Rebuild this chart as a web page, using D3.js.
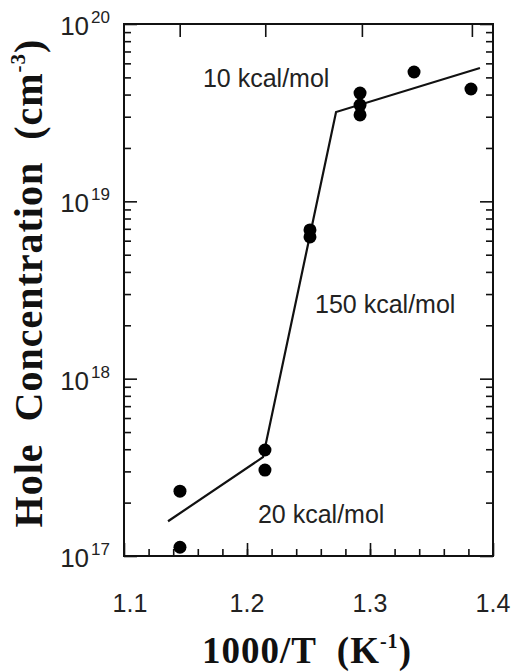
<!DOCTYPE html>
<html>
<head>
<meta charset="utf-8">
<script src="https://cdn.jsdelivr.net/npm/d3@7"></script>
<style>
  body { margin: 0; background: #fff; }
  svg { display: block; }
  .tick line { stroke: #111; stroke-width: 1.6; }
  .domain { display: none; }
</style>
</head>
<body>
<div id="chart"></div>
<script>
// measured points (1000/T, hole concentration)
const invTemp = [1.1455, 1.1455, 1.2146, 1.2146, 1.2512, 1.2512, 1.2919, 1.2919, 1.2919, 1.3358, 1.3821];
const holeConc = [2.32e17, 1.12e17, 3.96e17, 3.05e17, 6.9e18, 6.3e18, 4.08e19, 3.49e19, 3.07e19, 5.36e19, 4.3e19];

// piecewise fit line
const fitInvTemp = [1.1358, 1.213, 1.2724, 1.3894];
const fitConc = [1.57e17, 3.61e17, 3.19e19, 5.65e19];

// axes
const xTicks = [1.1, 1.2, 1.3, 1.4];
const xMinorTicks = d3.range(1.12, 1.39, 0.02);
const yDecades = [17, 18, 19, 20];
const topTicksC = [600, 550, 500, 450];   // unlabeled temperature ticks, deg C

// energy labels
const energyLabels = ["10 kcal/mol", "150 kcal/mol", "20 kcal/mol"];
const energyX = [1.1642, 1.2553, 1.2089];
const energyY = [4.4e19, 2.34e18, 1.53e17];

const width = 518, height = 672;
const margin = { top: 24, right: 25, bottom: 116, left: 124 };

const svg = d3.select("#chart").append("svg")
    .attr("width", width)
    .attr("height", height);

const x = d3.scaleLinear()
    .domain([1.1, 1.4])
    .range([margin.left, width - margin.right]);

const y = d3.scaleLog()
    .domain([1e17, 1e20])
    .range([height - margin.bottom, margin.top]);

const sans = "'Liberation Sans', Arial, sans-serif";
const serif = "'Liberation Serif', 'Times New Roman', serif";

// log minor ticks
const yMinor = [];
yDecades.slice(0, 3).forEach(d => {
    for (let m = 2; m <= 9; m++) yMinor.push(m * Math.pow(10, d));
});
const yMajor = yDecades.map(d => Math.pow(10, d));

function addAxis(axis, transform) {
    svg.append("g").attr("transform", transform).call(axis);
}

const x0 = margin.left, x1 = width - margin.right;
const y0 = height - margin.bottom, y1 = margin.top;

// left + right
addAxis(d3.axisLeft(y).tickValues(yMinor).tickSize(-7).tickFormat(""), `translate(${x0},0)`);
addAxis(d3.axisLeft(y).tickValues(yMajor).tickSize(-13).tickFormat(""), `translate(${x0},0)`);
addAxis(d3.axisRight(y).tickValues(yMinor).tickSize(-7).tickFormat(""), `translate(${x1},0)`);
addAxis(d3.axisRight(y).tickValues(yMajor).tickSize(-13).tickFormat(""), `translate(${x1},0)`);

// bottom
addAxis(d3.axisBottom(x).tickValues(xMinorTicks).tickSize(-7).tickFormat(""), `translate(0,${y0})`);
addAxis(d3.axisBottom(x).tickValues(xTicks).tickSize(-13).tickFormat(""), `translate(0,${y0})`);

// top: temperature in deg C on 1000/T scale
addAxis(d3.axisTop(x).tickValues(topTicksC.map(c => 1000 / (c + 273.15))).tickSize(-13).tickFormat(""),
    `translate(0,${y1})`);

// frame
svg.append("rect")
    .attr("x", x0).attr("y", y1)
    .attr("width", x1 - x0).attr("height", y0 - y1)
    .attr("fill", "none")
    .attr("stroke", "#111")
    .attr("stroke-width", 2);

// y tick labels 10^n
const yLab = svg.append("g").attr("font-family", sans).attr("fill", "#222");
yDecades.forEach(d => {
    const t = yLab.append("text")
        .attr("x", 110)
        .attr("y", y(Math.pow(10, d)) + 11)
        .attr("text-anchor", "end");
    t.append("tspan").attr("font-size", 26).text("10");
    t.append("tspan").attr("font-size", 17).attr("dx", 2).attr("dy", -12).text(d);
});

// x tick labels
svg.append("g").selectAll("text").data(xTicks).enter()
    .append("text")
    .attr("x", d => x(d) + (d === 1.1 ? 6 : 0))
    .attr("y", 612)
    .attr("text-anchor", "middle")
    .attr("font-family", sans)
    .attr("font-size", 25)
    .attr("fill", "#222")
    .text(d => d.toFixed(1));

// fit line
const fitData = fitInvTemp.map((v, i) => [v, fitConc[i]]);
svg.append("path")
    .datum(fitData)
    .attr("fill", "none")
    .attr("stroke", "#111")
    .attr("stroke-width", 2.2)
    .attr("d", d3.line().x(d => x(d[0])).y(d => y(d[1])));

// data points
svg.append("g").selectAll("circle").data(invTemp).enter()
    .append("circle")
    .attr("cx", d => x(d))
    .attr("cy", (d, i) => y(holeConc[i]))
    .attr("r", 6.5)
    .attr("fill", "#000");

// activation energy labels
svg.append("g").selectAll("text").data(energyLabels).enter()
    .append("text")
    .attr("x", (d, i) => x(energyX[i]))
    .attr("y", (d, i) => y(energyY[i]))
    .attr("font-family", sans)
    .attr("font-size", 25)
    .attr("fill", "#222")
    .text(d => d);

// x title
const xt = svg.append("text")
    .attr("x", 307)
    .attr("y", 663)
    .attr("text-anchor", "middle")
    .attr("font-family", serif)
    .attr("font-weight", "bold")
    .attr("font-size", 37)
    .attr("letter-spacing", 1)
    .attr("fill", "#111")
    .attr("xml:space", "preserve");
xt.append("tspan").text("1000/T  (K");
xt.append("tspan").attr("font-size", 20).attr("dy", -15).text("-1");
xt.append("tspan").attr("dy", 15).text(")");

// y title
const yt = svg.append("text")
    .attr("transform", "translate(42,283) rotate(-90)")
    .attr("text-anchor", "middle")
    .attr("font-family", serif)
    .attr("font-weight", "bold")
    .attr("font-size", 40)
    .attr("letter-spacing", 1)
    .attr("fill", "#111")
    .attr("xml:space", "preserve");
yt.append("tspan").text("Hole  Concentration  (cm");
yt.append("tspan").attr("font-size", 21).attr("dy", -17).text("-3");
yt.append("tspan").attr("dy", 17).text(")");
</script>
</body>
</html>
